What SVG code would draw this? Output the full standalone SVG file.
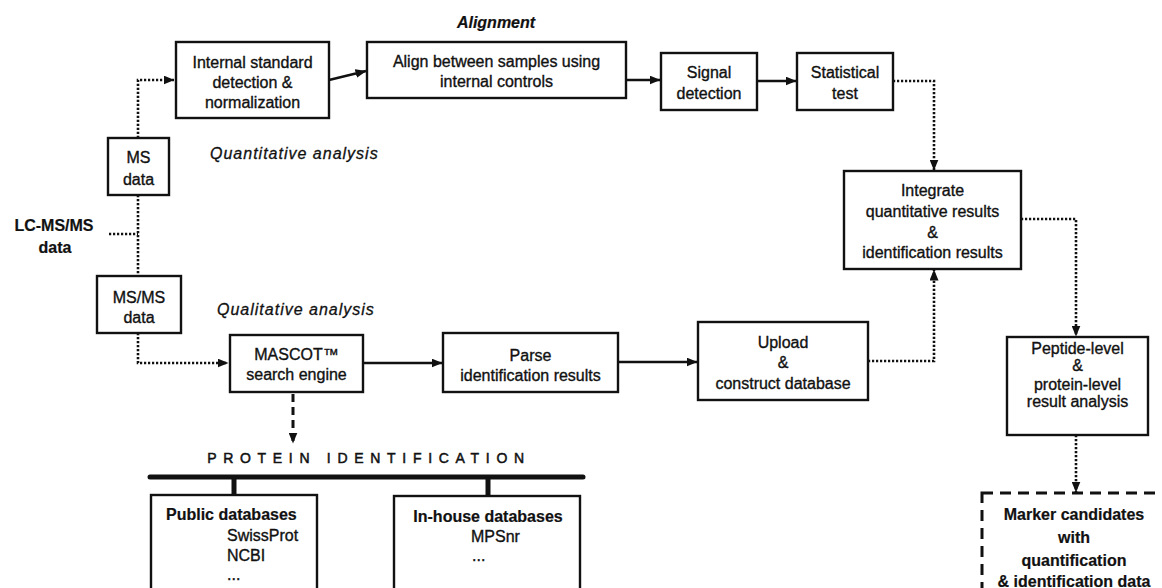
<svg xmlns="http://www.w3.org/2000/svg" width="1162" height="588" viewBox="0 0 1162 588">
<style>
  .box { fill: #fff; stroke: #111; stroke-width: 2.4; }
  .dbox { fill: none; stroke: #111; stroke-width: 3; stroke-dasharray: 11 7; }
  .t { font-family: "Liberation Sans", Arial, sans-serif; font-size: 16px; fill: #111; stroke: #111; stroke-width: 0.35; text-anchor: middle; }
  .b { font-weight: bold; stroke-width: 0.2; }
  .it { font-family: "Liberation Sans", Arial, sans-serif; font-style: italic; font-size: 16px; fill: #111; letter-spacing: 1px; stroke: #111; stroke-width: 0.3; }
  .solid { fill: none; stroke: #111; stroke-width: 2.4; }
  .dot { fill: none; stroke: #111; stroke-width: 2.6; stroke-dasharray: 2.2 1.8; }
  .dash { fill: none; stroke: #111; stroke-width: 3; stroke-dasharray: 8 5; }
  .bar { fill: none; stroke: #111; stroke-width: 5; stroke-linecap: round; }
</style>
<defs>
  <marker id="arr" markerUnits="userSpaceOnUse" markerWidth="11" markerHeight="9" refX="10.5" refY="4.5" orient="auto">
    <path d="M0,0 L11,4.5 L0,9 z" fill="#111"/>
  </marker>
</defs>
<rect width="1162" height="588" fill="#fff"/>

<g id="connectors">
  <polyline class="dot" points="138,138 138,80 174,80" marker-end="url(#arr)"/>
  <line class="solid" x1="329" y1="80" x2="366" y2="71" marker-end="url(#arr)"/>
  <line class="solid" x1="626" y1="80" x2="660" y2="80" marker-end="url(#arr)"/>
  <line class="solid" x1="757" y1="81" x2="796" y2="81" marker-end="url(#arr)"/>
  <polyline class="dot" points="893,81 934,81 934,170" marker-end="url(#arr)"/>
  <line class="dot" x1="109" y1="234" x2="138" y2="234"/>
  <line class="dot" x1="138" y1="195" x2="138" y2="276"/>
  <polyline class="dot" points="138,333 138,363 228,363" marker-end="url(#arr)"/>
  <line class="solid" x1="363" y1="363" x2="442" y2="363" marker-end="url(#arr)"/>
  <line class="solid" x1="618" y1="362" x2="697" y2="362" marker-end="url(#arr)"/>
  <polyline class="dot" points="868,361 934,361 934,270" marker-end="url(#arr)"/>
  <polyline class="dot" points="1021,219 1076,219 1076,336" marker-end="url(#arr)"/>
  <line class="dot" x1="1076" y1="435" x2="1076" y2="492" marker-end="url(#arr)"/>
  <line class="dash" x1="293" y1="394" x2="293" y2="443" marker-end="url(#arr)"/>
  <line class="bar" x1="150" y1="477" x2="583" y2="477"/>
  <line class="bar" x1="234" y1="477" x2="234" y2="495" style="stroke-linecap:butt"/>
  <line class="bar" x1="488" y1="477" x2="488" y2="496" style="stroke-linecap:butt"/>
</g>

<g id="labels">
  <text class="t b" x="496" y="28" style="font-style:italic">Alignment</text>
  <text class="it" x="210" y="159">Quantitative analysis</text>
  <text class="it" x="217" y="315">Qualitative analysis</text>
  <text class="t b" x="54" y="231">LC-MS/MS</text>
  <text class="t b" x="55" y="253">data</text>
  <text class="t" x="369" y="463" style="font-size:14px;letter-spacing:6.7px;stroke-width:0.5">PROTEIN IDENTIFICATION</text>
</g>

<g id="internal-standard">
  <rect class="box" x="176" y="42" width="153" height="76"/>
  <text class="t" x="252.5" y="68">Internal standard</text>
  <text class="t" x="252.5" y="88">detection &amp;</text>
  <text class="t" x="252.5" y="108">normalization</text>
</g>
<g id="align">
  <rect class="box" x="367" y="42" width="259" height="56"/>
  <text class="t" x="496.5" y="67">Align between samples using</text>
  <text class="t" x="496.5" y="87">internal controls</text>
</g>
<g id="signal">
  <rect class="box" x="661" y="53" width="96" height="57"/>
  <text class="t" x="709" y="78">Signal</text>
  <text class="t" x="709" y="99">detection</text>
</g>
<g id="statistical">
  <rect class="box" x="797" y="53" width="96" height="57"/>
  <text class="t" x="845" y="78">Statistical</text>
  <text class="t" x="845" y="99">test</text>
</g>
<g id="ms-data">
  <rect class="box" x="108" y="138" width="61" height="57"/>
  <text class="t" x="138.5" y="163">MS</text>
  <text class="t" x="138.5" y="185">data</text>
</g>
<g id="msms-data">
  <rect class="box" x="97" y="276" width="84" height="57"/>
  <text class="t" x="139" y="303">MS/MS</text>
  <text class="t" x="139" y="323">data</text>
</g>
<g id="mascot">
  <rect class="box" x="230" y="335" width="133" height="57"/>
  <text class="t" x="296.5" y="360">MASCOT™</text>
  <text class="t" x="296.5" y="380">search engine</text>
</g>
<g id="parse">
  <rect class="box" x="443" y="333" width="175" height="59"/>
  <text class="t" x="530.5" y="361">Parse</text>
  <text class="t" x="530.5" y="381">identification results</text>
</g>
<g id="upload">
  <rect class="box" x="698" y="322" width="170" height="78"/>
  <text class="t" x="783" y="348">Upload</text>
  <text class="t" x="783" y="368">&amp;</text>
  <text class="t" x="783" y="389">construct database</text>
</g>
<g id="integrate">
  <rect class="box" x="844" y="171" width="177" height="98"/>
  <text class="t" x="932.5" y="196">Integrate</text>
  <text class="t" x="932.5" y="217">quantitative results</text>
  <text class="t" x="932.5" y="238">&amp;</text>
  <text class="t" x="932.5" y="258">identification results</text>
</g>
<g id="peptide">
  <rect class="box" x="1007" y="337" width="141" height="98"/>
  <text class="t" x="1077.5" y="354">Peptide-level</text>
  <text class="t" x="1077.5" y="371">&amp;</text>
  <text class="t" x="1077.5" y="390">protein-level</text>
  <text class="t" x="1077.5" y="407">result analysis</text>
</g>
<g id="marker-candidates">
  <rect class="dbox" x="982" y="493" width="200" height="120"/>
  <text class="t b" x="1074" y="520">Marker candidates</text>
  <text class="t b" x="1074" y="543">with</text>
  <text class="t b" x="1074" y="566">quantification</text>
  <text class="t b" x="1074" y="587">&amp; identification data</text>
</g>
<g id="public-databases">
  <rect class="box" x="151" y="495" width="166" height="120"/>
  <text class="t b" x="166" y="520" style="text-anchor:start">Public databases</text>
  <text class="t" x="227" y="541" style="text-anchor:start">SwissProt</text>
  <text class="t" x="227" y="561" style="text-anchor:start">NCBI</text>
  <text class="t" x="227" y="580" style="text-anchor:start">...</text>
</g>
<g id="inhouse-databases">
  <rect class="box" x="394" y="496" width="186" height="120"/>
  <text class="t b" x="488" y="522">In-house databases</text>
  <text class="t" x="471" y="542" style="text-anchor:start">MPSnr</text>
  <text class="t" x="472" y="561" style="text-anchor:start">...</text>
</g>
</svg>
